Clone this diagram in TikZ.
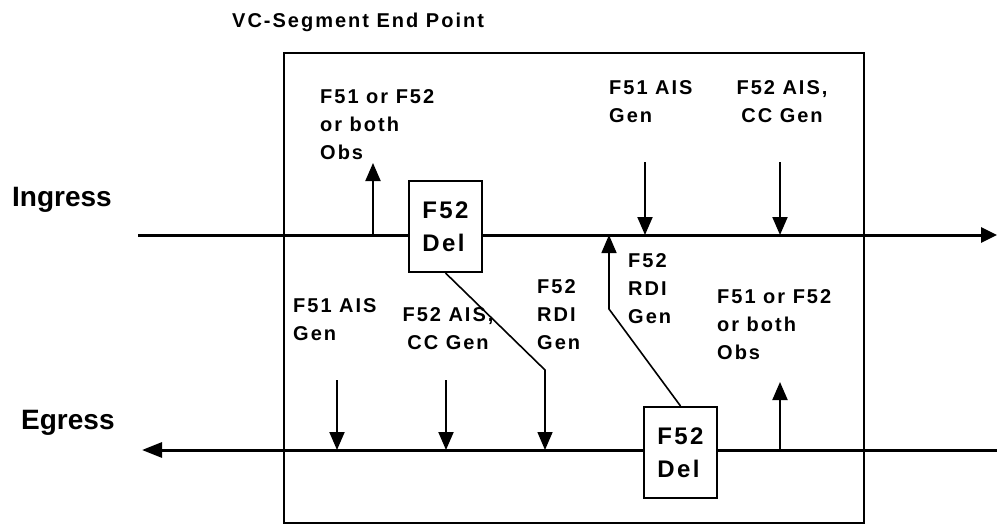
\documentclass[tikz,border=0pt]{standalone}
\usepackage{fontspec}
\setmainfont{Liberation Sans}
\newfontfamily\lbl[LetterSpace=10,BoldFont={* Bold}]{Liberation Sans}
\usetikzlibrary{arrows.meta}
\begin{document}
\begin{tikzpicture}[x=1pt,y=-1pt,
  lab/.style={font=\lbl\bfseries\fontsize{20}{28}\selectfont, inner sep=0pt, anchor=base west, align=left},
  labc/.style={font=\lbl\bfseries\fontsize{20}{28}\selectfont, inner sep=0pt, anchor=base, align=center},
  side/.style={font=\bfseries\fontsize{28}{32}\selectfont, inner sep=0pt, anchor=base west},
  delbox/.style={draw, line width=2pt, fill=white, minimum width=73pt, minimum height=91pt, inner sep=0pt, align=left,
     font=\lbl\bfseries\fontsize{24}{33}\selectfont},
  tip/.style={-{Triangle[length=18pt,width=15pt]}},
  flow/.style={line width=3pt},
  sig/.style={line width=2pt, tip},
  link/.style={line width=1.6pt, tip}]
\useasboundingbox (0,0) rectangle (997,525);
% outer box
\draw[line width=2pt] (284,53) rectangle (864,523);
% titles
\node[lab] (title) at (232,27) {VC-Segment End Point};
\node[side] (ing) at (12,206) {Ingress};
\node[side] (egr) at (21,429) {Egress};
% flow lines
\coordinate (inA) at (138,235);
\coordinate (inB) at (997,235);
\coordinate (egA) at (997,450);
\coordinate (egB) at (142,450);
\draw[flow, -{Triangle[length=16pt,width=15pt]}] (inA) -- (inB);
\draw[flow, -{Triangle[length=20pt,width=15pt]}] (egA) -- (egB);
% Del boxes
\node[delbox] (del1) at (445.5,226.5) {F52\\Del};
\node[delbox] (del2) at (680.5,452.5) {F52\\Del};
% upper signals
\coordinate (o1a) at (373,235); \coordinate (o1b) at (373,163);
\draw[sig] (o1a) -- (o1b);
\coordinate (a1a) at (645,162); \coordinate (a1b) at (645,235);
\draw[sig] (a1a) -- (a1b);
\coordinate (c1a) at (780,162); \coordinate (c1b) at (780,235);
\draw[sig] (c1a) -- (c1b);
% lower signals
\coordinate (a2a) at (337,380); \coordinate (a2b) at (337,450);
\draw[sig] (a2a) -- (a2b);
\coordinate (c2a) at (446,380); \coordinate (c2b) at (446,450);
\draw[sig] (c2a) -- (c2b);
\coordinate (o2a) at (780,450); \coordinate (o2b) at (780,382);
\draw[sig] (o2a) -- (o2b);
% RDI links
\coordinate (r1) at (545,370); \coordinate (r1b) at (545,450);
\draw[link] (del1.south) -- (r1) -- (r1b);
\coordinate (r2) at (609,309); \coordinate (r2b) at (609,235);
\draw[link] (del2.north) -- (r2) -- (r2b);
% labels (anchor = baseline of last line)
\node[lab] (t1) at (320,159) {F51 or F52\\or both\\Obs};
\node[lab] (t2) at (609,122) {F51 AIS\\Gen};
\node[labc] (t3) at (782,122) {F52 AIS,\\CC Gen};
\node[lab] (t4) at (628,323) {F52\\RDI\\Gen};
\node[lab] (t5) at (293,340) {F51 AIS\\Gen};
\node[labc] (t6) at (448,349) {F52 AIS,\\CC Gen};
\node[lab] (t7) at (537,349) {F52\\RDI\\Gen};
\node[lab] (t8) at (717,359) {F51 or F52\\or both\\Obs};
\end{tikzpicture}
\end{document}
